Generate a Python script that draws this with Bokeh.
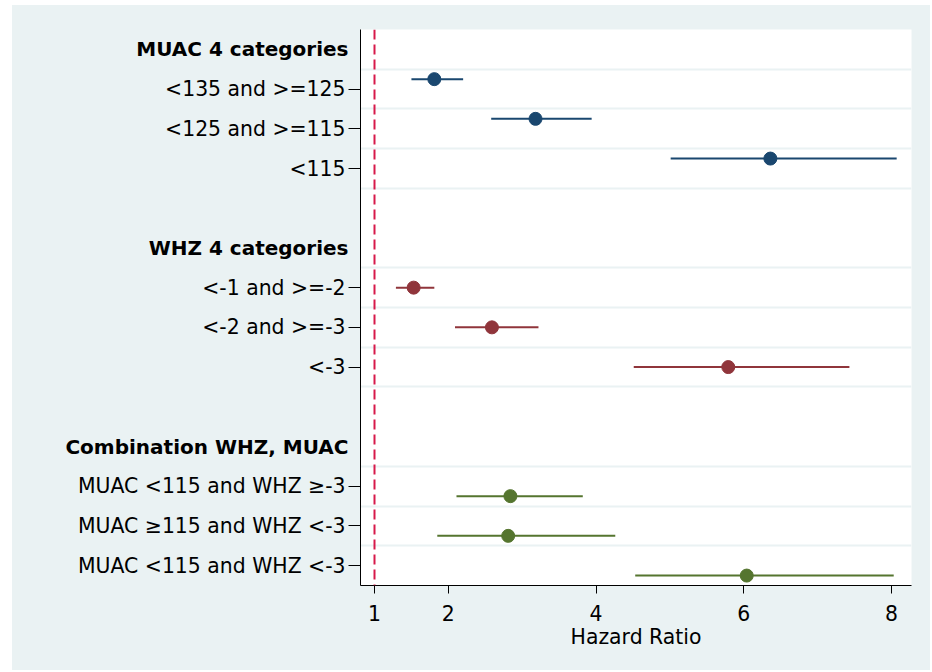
from bokeh.plotting import figure
from bokeh.layouts import row as bk_row
from bokeh.models import Range1d, FixedTicker, Span, ColumnDataSource
from bokeh.core.properties import value
from bokeh.embed import file_html
from bokeh.resources import INLINE

# ---- data ----
group_titles = ["MUAC 4 categories", "WHZ 4 categories", "Combination WHZ, MUAC"]

muac_labels = ["<135 and >=125", "<125 and >=115", "<115"]
muac_hr = [1.81, 3.18, 6.36]
muac_lo = [1.50, 2.58, 5.01]
muac_hi = [2.20, 3.94, 8.07]

whz_labels = ["<-1 and >=-2", "<-2 and >=-3", "<-3"]
whz_hr = [1.53, 2.59, 5.79]
whz_lo = [1.29, 2.09, 4.51]
whz_hi = [1.81, 3.22, 7.43]

comb_labels = ["MUAC <115 and WHZ \u2265-3", "MUAC \u2265115 and WHZ <-3", "MUAC <115 and WHZ <-3"]
comb_hr = [2.84, 2.81, 6.04]
comb_lo = [2.11, 1.85, 4.53]
comb_hi = [3.82, 4.26, 8.03]

x_ticks = [1, 2, 4, 6, 8]
x_title = "Hazard Ratio"

groups = [
    (muac_labels, muac_hr, muac_lo, muac_hi, "#1A476F", -0.25),
    (whz_labels, whz_hr, whz_lo, whz_hi, "#90353B", 0.0),
    (comb_labels, comb_hr, comb_lo, comb_hi, "#55752F", 0.25),
]

FONT = "DejaVu Sans"
FS = "20.4px"
FS_HEAD = "20px"
BG = "#EAF2F3"
H = 665
TOP = 24
BOTTOM = 85

yr = Range1d(13.5, -0.5)

# main plot
p = figure(width=582, height=H, output_backend="svg", toolbar_location=None,
           x_range=Range1d(0.8104, 8.2708), y_range=yr,
           min_border_left=12, min_border_top=TOP, min_border_right=19, min_border_bottom=BOTTOM)
p.background_fill_color = "white"
p.border_fill_color = BG
p.outline_line_color = None

# label panel (left)
lp = figure(width=336, height=H, output_backend="svg", toolbar_location=None,
            x_range=Range1d(0, 1), y_range=yr, x_axis_type=None, y_axis_type=None,
            min_border_left=0, min_border_top=TOP, min_border_right=0, min_border_bottom=BOTTOM)
lp.background_fill_color = BG
lp.border_fill_color = BG
lp.outline_line_color = None
lp.xgrid.visible = False
lp.ygrid.visible = False

tick_rows = []
grid_rows = []
item_y, item_txt = [], []
head_y, head_txt = [], []
r0 = 0
for gi, (labs, hr, lo, hi, col, off) in enumerate(groups):
    head_y.append(r0)
    head_txt.append(group_titles[gi])
    grid_rows.append(r0 + 0.5)
    ys = []
    for i, lab in enumerate(labs):
        r = r0 + 1 + i
        tick_rows.append(r)
        item_y.append(r)
        item_txt.append(lab)
        ys.append(r + off)
        grid_rows.append(r + 0.5)
    if gi == len(groups) - 1:
        grid_rows.pop()
    src = ColumnDataSource(dict(y=ys, hr=hr, lo=lo, hi=hi))
    p.segment(x0="lo", x1="hi", y0="y", y1="y", source=src, line_color=col, line_width=2)
    p.scatter(x="hr", y="y", source=src, size=13, fill_color=col, line_color=col)
    r0 += 5

isrc = ColumnDataSource(dict(x=[1] * len(item_y), y=item_y, t=item_txt))
lp.text(x="x", y="y", text="t", source=isrc, x_offset=-3, text_align="right",
        text_baseline="middle", text_font=value(FONT), text_font_size=value(FS),
        text_color="black")
hsrc = ColumnDataSource(dict(x=[1] * len(head_y), y=head_y, t=head_txt))
lp.text(x="x", y="y", text="t", source=hsrc, x_offset=0, text_align="right",
        text_baseline="middle", text_font=value(FONT), text_font_size=value(FS_HEAD),
        text_font_style="bold", text_color="black")

# reference line at HR = 1
p.add_layout(Span(location=1, dimension="height", line_color="#D7194A",
                  line_width=2, line_dash="10 5"))

# y axis: tick marks only (as minor ticks, no labels)
p.yaxis.ticker = FixedTicker(ticks=[], minor_ticks=tick_rows)
p.yaxis.major_tick_line_color = None
p.yaxis.minor_tick_out = 12
p.yaxis.minor_tick_in = 0
p.yaxis.minor_tick_line_color = "black"
p.yaxis.major_label_standoff = 0
p.yaxis.axis_line_color = "black"

p.xaxis.ticker = FixedTicker(ticks=x_ticks)
p.xaxis.major_label_text_font = FONT
p.xaxis.major_label_text_font_size = FS
p.xaxis.major_label_text_color = "black"
p.xaxis.major_tick_out = 8
p.xaxis.major_tick_in = 0
p.xaxis.minor_tick_line_color = None
p.xaxis.major_label_standoff = 11
p.xaxis.axis_label = x_title
p.xaxis.axis_label_text_font = FONT
p.xaxis.axis_label_text_font_size = FS
p.xaxis.axis_label_text_font_style = "normal"
p.xaxis.axis_label_text_color = "black"
p.xaxis.axis_label_standoff = 1
p.xaxis.axis_line_color = "black"

p.xgrid.grid_line_color = None
p.ygrid.ticker = FixedTicker(ticks=grid_rows)
p.ygrid.grid_line_color = BG
p.ygrid.grid_line_width = 2

layout = bk_row(lp, p, spacing=0)
layout.margin = (5, 0, 0, 12)
layout.styles = {"background-color": BG}

open("out.html", "w").write(file_html(layout, INLINE))
